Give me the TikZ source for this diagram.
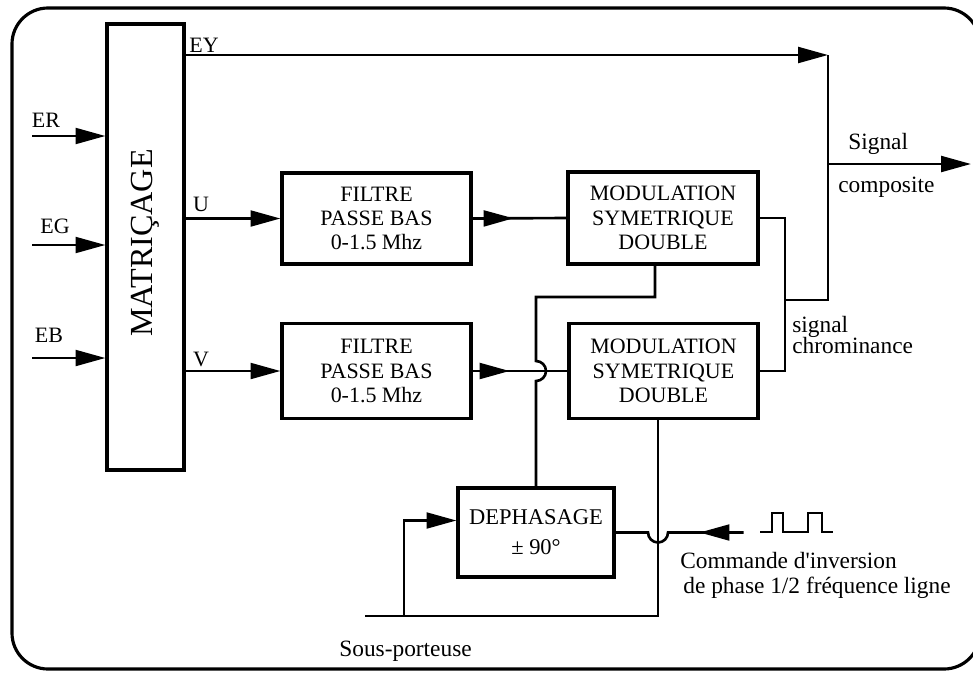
\documentclass[tikz,border=0pt]{standalone}
\usepackage{fontspec}
\setmainfont{Liberation Serif}[Ligatures=TeXOff]
\usetikzlibrary{arrows.meta,decorations.markings,calc}
\begin{document}
\begin{tikzpicture}[x=0.02cm,y=-0.02cm,
  wire/.style={line width=1.5pt},
  arr/.style={wire,-{Triangle[length=17pt,width=9pt]}},
  box/.style={draw,line width=1.8pt,align=center,inner sep=0pt,font=\fontsize{12.5}{13.8}\selectfont},
  lbl/.style={font=\fontsize{12.5}{14}\selectfont,inner sep=0pt},
  txt/.style={font=\fontsize{13.3}{14}\selectfont,inner sep=0pt,anchor=base west},
  midarrow/.style={postaction={decorate},decoration={markings,mark=at position #1 with {\arrow{Triangle[length=17pt,width=9pt]}}}}
]
\useasboundingbox (0,0) rectangle (973,673);
\draw[line width=1.8pt,rounded corners=0.72cm] (12,8) rectangle (980,669);

% blocks
\node[box,minimum width=1.54cm,minimum height=8.92cm] (mat) at (145.5,247) {};
\node[rotate=90,inner sep=0pt,font=\fontsize{18.3}{18}\selectfont] (matlabel) at (145,243) {MATRIÇAGE};
\node[box,minimum width=3.78cm,minimum height=1.82cm] (f1) at (376.5,218.5) {FILTRE\\PASSE BAS\\0-1.5 Mhz};
\node[box,minimum width=3.78cm,minimum height=1.90cm] (f2) at (376.5,371) {FILTRE\\PASSE BAS\\0-1.5 Mhz};
\node[box,minimum width=3.80cm,minimum height=1.84cm] (m1) at (663,218) {MODULATION\\SYMETRIQUE\\DOUBLE};
\node[box,minimum width=3.78cm,minimum height=1.90cm] (m2) at (663.5,371) {MODULATION\\SYMETRIQUE\\DOUBLE};
\node[box,minimum width=3.12cm,minimum height=1.78cm,font=\fontsize{12.8}{17}\selectfont] (deph) at (536,532.5) {DEPHASAGE\\± 90°};

% coordinates
\coordinate (er) at (32,136);
\coordinate (eg) at (32,245);
\coordinate (eb) at (32,358);
\coordinate (sum) at (828,55);
\coordinate (oj) at (828,164);
\coordinate (out) at (971,164);
\coordinate (chr) at (828,300);
\coordinate (cj) at (785,300);
\coordinate (j1) at (655,297);
\coordinate (j2) at (658,616);
\coordinate (j3) at (404,616);
\coordinate (sp) at (365,616);
\coordinate (din) at ($(deph.west)+(0,-12)$);
\coordinate (cmd) at ($(deph.east)+(128,0)$);
\coordinate (sq) at (760,532);

% inputs
\draw[arr] (er) -- (er -| mat.west);
\draw[arr] (eg) -- (eg -| mat.west);
\draw[arr] (eb) -- (eb -| mat.west);

% EY and output
\draw[arr] (mat.east |- sum) -- (sum);
\draw[wire] (sum) -- (chr) -- (cj);
\draw[arr] (oj) -- (out);
\draw[wire] (m1.east) -- (m1.east -| cj) -- (m2.east -| cj) -- (m2.east);

% U, V
\draw[arr] (mat.east |- f1.west) -- (f1.west);
\draw[arr] (mat.east |- f2.west) -- (f2.west);
\draw[wire,midarrow=0.82cm] (f1.east) -- (m1.west);
\draw[wire,midarrow=0.74cm] (f2.east) -- (m2.west);

% modulator 1 to dephasage (hop over V line)
\draw[wire] (m1.south -| j1) -- (j1) -- (j1 -| deph.north)
  -- ($(deph.north |- f2.east)+(0,-10)$) arc[start angle=90,end angle=-90,radius=0.2cm]
  -- (deph.north);

% sous-porteuse
\draw[wire] (m2.south -| j2) -- (j2) -- (sp);
\draw[arr] (j3) -- (j3 |- din) -- (din);

% commande
\draw[wire,midarrow=0.88cm] (cmd) -- ($(j2 |- deph.east)+(10,0)$)
  arc[start angle=0,end angle=-180,radius=0.2cm] -- (deph.east);
\draw[line width=1.3pt] (sq) -- ++(12,0) -- ++(0,-19) -- ++(11,0) -- ++(0,19) -- ++(25,0)
  -- ++(0,-19) -- ++(14,0) -- ++(0,19) -- ++(11,0);

% labels
\node[lbl] (tEY) at (204,45) {EY};
\node[lbl] (tU) at (201,204) {U};
\node[lbl] (tV) at (201,359) {V};
\node[lbl] (tER) at (46,120) {ER};
\node[lbl] (tEG) at (55,226) {EG};
\node[lbl] (tEB) at (49,335) {EB};
\node[txt] (tsig) at (848,149) {Signal};
\node[txt] (tcomp) at (838,192) {composite};
\node[txt] (tsc1) at (792,332) {signal};
\node[txt] (tsc2) at (792,353) {chrominance};
\node[txt] (tcmd1) at (680,568) {Commande d'inversion};
\node[txt] (tcmd2) at (683,593) {de phase 1/2 fréquence ligne};
\node[txt] (tsp) at (339,656) {Sous-porteuse};
\end{tikzpicture}
\end{document}
